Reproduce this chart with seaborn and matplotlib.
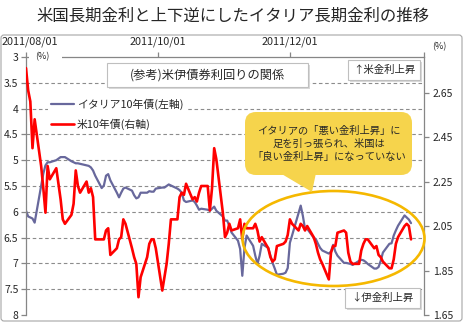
import numpy as np
import pandas as pd
import matplotlib
matplotlib.use("Agg")
import matplotlib.pyplot as plt
from matplotlib.patches import Ellipse, FancyBboxPatch, Polygon, Rectangle
from matplotlib.lines import Line2D
from matplotlib.transforms import Affine2D, ScaledTranslation
import seaborn as sns

W, H = 466, 325

# Business days, 2011/08/01 - 2012/01/26
dates = pd.bdate_range("2011-08-01", "2012-01-26")

# US 10-year Treasury yield (%), right axis
us_10y = [
    2.76, 2.66, 2.61, 2.40, 2.53,
    2.32, 2.22, 2.11, 2.32, 2.26,
    2.31, 2.24, 2.17, 2.08, 2.06,
    2.10, 2.15, 2.30, 2.23, 2.20,
    2.25, 2.20, 2.22, 2.18, 1.99,
    1.99, 1.99, 2.03, 2.04, 1.92,
    1.95, 1.99, 2.00, 2.08, 2.06,
    1.95, 1.91, 1.88, 1.73, 1.82,
    1.91, 1.97, 1.99, 1.99, 1.95,
    1.76, 1.82, 1.88, 1.97, 2.08,
    2.08, 2.18, 2.20, 2.19, 2.24,
    2.17, 2.18, 2.16, 2.20, 2.23,
    2.23, 2.12, 2.22, 2.40, 2.35,
    2.11, 2.00, 2.02, 2.06, 2.03,
    2.04, 2.08, 1.99, 2.06, 2.04,
    2.04, 2.06, 2.03, 1.98, 2.00,
    1.95, 1.91, 1.89, 1.90, 1.96,
    1.97, 1.98, 2.01, 2.08, 2.06,
    2.03, 2.06, 2.05, 2.03, 2.05,
    2.00, 1.97, 1.93, 1.90, 1.88,
    1.81, 1.93, 1.96, 1.96, 2.02,
    2.03, 2.02, 1.93, 1.89, 1.88,
    1.88, 1.94, 1.97, 1.99, 1.99,
    1.95, 1.96, 1.92, 1.91, 1.89,
    1.86, 1.86, 1.90, 1.97, 2.00,
    2.05, 2.06, 2.05, 1.99,
]

# Italy 10-year BTP yield (%), left axis (reversed)
italy_10y = [
    5.98, 6.09, 6.11, 6.13, 6.21,
    5.49, 5.26, 5.10, 5.04, 5.04,
    5.00, 4.97, 4.94, 4.94, 4.94,
    5.02, 5.04, 5.06, 5.06, 5.07,
    5.10, 5.11, 5.14, 5.20, 5.30,
    5.54, 5.49, 5.30, 5.27, 5.39,
    5.63, 5.72, 5.63, 5.55, 5.53,
    5.59, 5.68, 5.74, 5.72, 5.63,
    5.63, 5.60, 5.61, 5.61, 5.55,
    5.53, 5.53, 5.50, 5.47, 5.49,
    5.55, 5.58, 5.63, 5.78, 5.81,
    5.78, 5.81, 5.88, 5.96, 5.94,
    5.96, 5.98, 5.94, 5.90, 5.98,
    6.09, 6.17, 6.17, 6.27, 6.40,
    6.56, 6.72, 7.24, 6.70, 6.46,
    6.66, 6.85, 7.01, 6.85, 6.62,
    6.70, 6.85, 6.99, 7.10, 7.22,
    7.20, 7.18, 7.09, 6.60, 6.46,
    6.02, 5.88, 6.08, 6.33, 6.33,
    6.50, 6.53, 6.62, 6.70, 6.75,
    6.81, 6.77, 6.64, 6.77, 6.85,
    6.99, 6.99, 7.00, 7.01, 7.03,
    6.95, 6.93, 6.94, 6.97, 7.01,
    7.10, 7.10, 7.07, 6.95, 6.79,
    6.62, 6.61, 6.46, 6.36, 6.27,
    6.07, 6.11, 6.15, 6.22,
]

left_ticks = [3, 3.5, 4, 4.5, 5, 5.5, 6, 6.5, 7, 7.5, 8]
left_tick_labels = ["3", "3.5", "4", "4.5", "5", "5.5", "6", "6.5", "7", "7.5", "8"]
right_ticks = [1.65, 1.85, 2.05, 2.25, 2.45, 2.65]
right_tick_labels = ["1.65", "1.85", "2.05", "2.25", "2.45", "2.65"]
x_ticks = pd.to_datetime(["2011-08-01", "2011-10-01", "2011-12-01", "2012-02-01"])
x_tick_labels = ["2011/08/01", "2011/10/01", "2011/12/01", ""]

title = "米国長期金利と上下逆にしたイタリア長期金利の推移"
italy_label = "イタリア10年債(左軸)"
us_label = "米10年債(右軸)"
note_title = "(参考)米伊債券利回りの関係"
us_up = "↑米金利上昇"
italy_up = "↓伊金利上昇"
callout_lines = ["イタリアの「悪い金利上昇」に", "足を引っ張られ、米国は", "「良い金利上昇」になっていない"]

ITALY_COLOR = "#68689C"
US_COLOR = "#FF0000"
AXIS_COLOR = "#868686"
GRID_COLOR = "#8C8C8C"
CALLOUT_COLOR = "#F6D44C"
RING_COLOR = "#F5B800"

sns.set_theme(style="white")
plt.rcParams["font.family"] = ["Noto Sans CJK JP", "DejaVu Sans"]

fig = plt.figure(figsize=(W / 100, H / 100), dpi=100)
fig.patch.set_facecolor("white")

# transform for positions given in pixels from the top-left corner
PX = Affine2D().scale(1, -1).translate(0, H).scale(1 / 100) + fig.dpi_scale_trans


def fx(x):
    return x / W


def fy(y):
    return 1 - y / H


# outer chart frame
fig.add_artist(FancyBboxPatch((1, 35), 461, 286, boxstyle="round,pad=0,rounding_size=3",
                              transform=PX, facecolor="none", edgecolor="#A6A6A6",
                              lw=0.8, zorder=0))

ax = fig.add_axes([fx(26), fy(315), fx(424) - fx(26), fy(57) - fy(315)])
ax.set_facecolor("none")

df = pd.DataFrame({"date": dates, "italy": italy_10y, "us": us_10y})

sns.lineplot(data=df, x="date", y="italy", ax=ax, color=ITALY_COLOR, lw=1.6, legend=False)
ax2 = ax.twinx()
sns.lineplot(data=df, x="date", y="us", ax=ax2, color=US_COLOR, lw=1.9, legend=False)

ax.set_xlim(pd.Timestamp("2011-08-01"), pd.Timestamp("2012-02-01"))
ax.set_ylim(8, 3)
ax2.set_ylim(1.65, 2.81)

for a in (ax, ax2):
    a.set_xlabel("")
    a.set_ylabel("")
    for s in a.spines.values():
        s.set_visible(False)
        s.set_color(AXIS_COLOR)
        s.set_linewidth(0.9)

ax.spines["left"].set_visible(True)
ax.spines["top"].set_visible(True)
ax2.spines["right"].set_visible(True)

# dashed horizontal gridlines at the inner left-axis ticks
for v in left_ticks[1:-1]:
    ax.axhline(v, color=GRID_COLOR, lw=0.8, ls=(0, (3.2, 2.4)), zorder=0.5)

ax.set_yticks(left_ticks)
ax.set_yticklabels(left_tick_labels)
ax2.set_yticks(right_ticks)
ax2.set_yticklabels(right_tick_labels)
ax.xaxis.tick_top()
ax.set_xticks(x_ticks)
ax.set_xticklabels(x_tick_labels)

ax.tick_params(axis="y", direction="out", length=3.5, width=0.9, color=AXIS_COLOR,
               labelsize=7.5, pad=2, left=True, labelleft=True)
ax2.tick_params(axis="y", direction="out", length=3.5, width=0.9, color=AXIS_COLOR,
                labelsize=7.5, pad=3, right=True, labelright=True)
ax.tick_params(axis="x", direction="out", length=3.5, width=0.9, color=AXIS_COLOR,
               labelsize=7.8, pad=3.5, top=True, labeltop=True, bottom=False, labelbottom=False)

# keep the first date label inside the figure edge
first_label = ax.get_xticklabels()[0]
first_label.set_transform(first_label.get_transform()
                          + ScaledTranslation(4 / 100, 0, fig.dpi_scale_trans))

# unit labels
fig.add_artist(Rectangle((29, 50), 33, 13, transform=PX, facecolor="white",
                         edgecolor="none", zorder=2))
fig.text(fx(42), fy(57), "(%)", ha="center", va="center", fontsize=6.5, zorder=3)
fig.text(fx(439), fy(47), "(%)", ha="center", va="center", fontsize=6.5)

# title
fig.text(fx(233), fy(16), title, ha="center", va="center", fontsize=11.8)

# legend
handles = [Line2D([], [], color=ITALY_COLOR, lw=1.6), Line2D([], [], color=US_COLOR, lw=1.9)]
leg = fig.legend(handles, [italy_label, us_label], loc="upper left",
                 bbox_to_anchor=(fx(48), fy(95)), frameon=True, fontsize=7.8,
                 handlelength=2.1, handletextpad=0.25, labelspacing=0.85,
                 borderpad=0.3, borderaxespad=0)
leg.get_frame().set_facecolor("white")
leg.get_frame().set_edgecolor("none")
leg.get_frame().set_alpha(1)


def label_box(x0, y0, x1, y1, text, size):
    fig.add_artist(Rectangle((x0 + 2, y0 + 2), x1 - x0, y1 - y0, transform=PX,
                             facecolor="#D9D9D9", edgecolor="none", zorder=2))
    fig.add_artist(Rectangle((x0, y0), x1 - x0, y1 - y0, transform=PX,
                             facecolor="white", edgecolor="#BFBFBF", lw=0.8, zorder=2.1))
    fig.text(fx((x0 + x1) / 2), fy((y0 + y1) / 2), text, ha="center", va="center",
             fontsize=size, zorder=3)


label_box(107, 63, 308, 87, note_title, 8.8)
label_box(348, 60, 420, 80, us_up, 7.5)
label_box(345, 288, 420, 308, italy_up, 7.5)

# highlight ring and speech bubble
fig.add_artist(Ellipse((333.5, 238.5), 182, 95, transform=PX, facecolor="none",
                       edgecolor=RING_COLOR, lw=1.9, zorder=2))
fig.add_artist(FancyBboxPatch((245, 112), 167, 63, boxstyle="round,pad=0,rounding_size=11",
                              transform=PX, facecolor=CALLOUT_COLOR, edgecolor="none", zorder=2.2))
fig.add_artist(Polygon([(280, 173), (316, 173), (312, 192)], closed=True, transform=PX,
                       facecolor=CALLOUT_COLOR, edgecolor="none", zorder=2.2))
for i, line in enumerate(callout_lines):
    fig.text(fx(329), fy(131 + 13 * i), line, ha="center", va="center", fontsize=7.4, zorder=3)

fig.savefig("out.png", dpi=100)
